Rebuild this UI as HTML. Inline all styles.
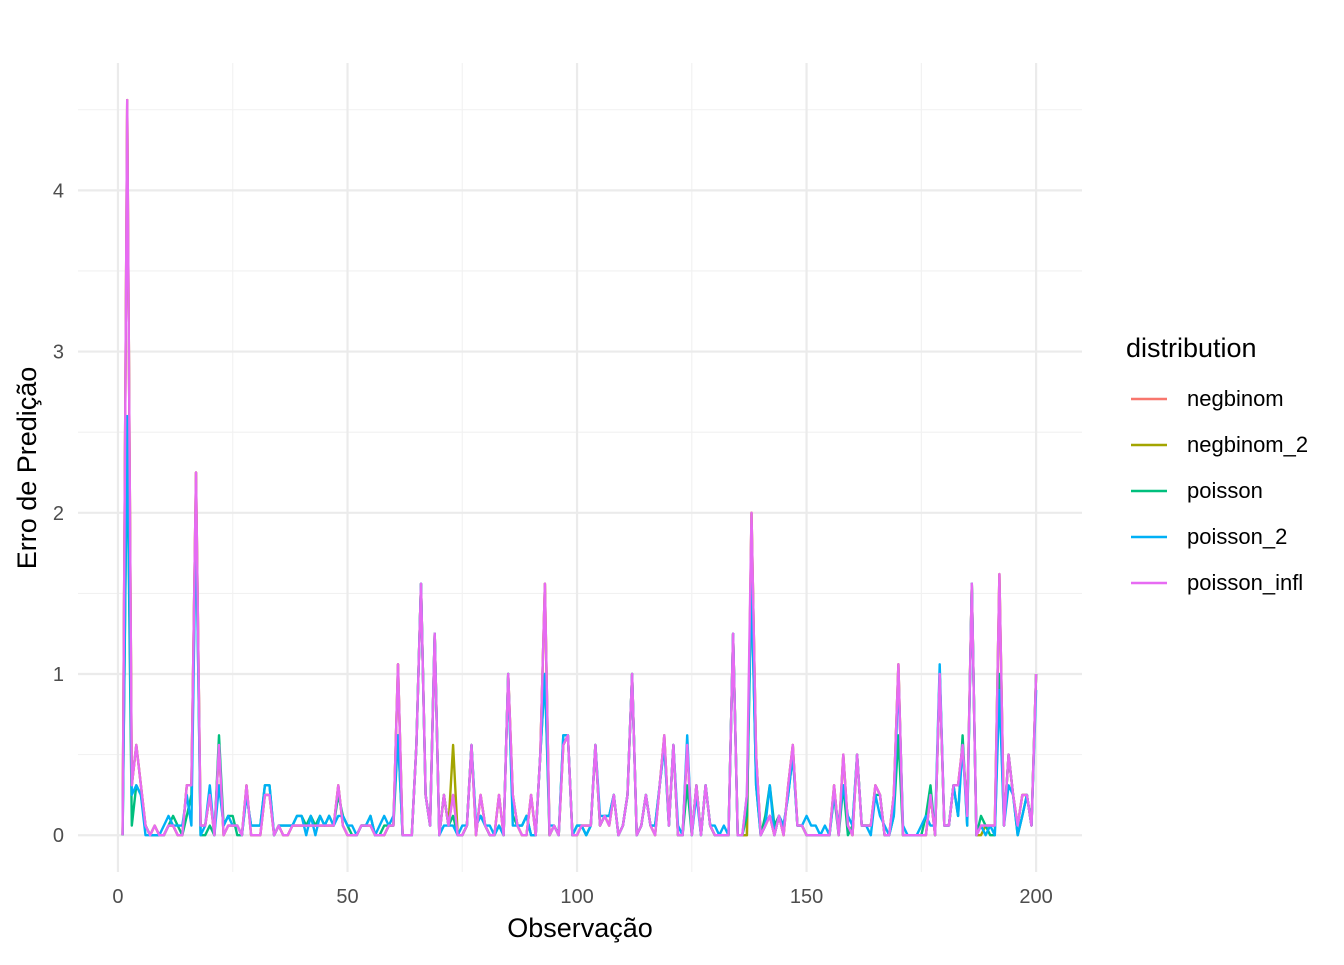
<!DOCTYPE html>
<html><head><meta charset="utf-8"><style>
body{margin:0;background:#fff;}
svg text{font-family:"Liberation Sans",sans-serif;}
</style></head><body>
<svg id="chart" width="1344" height="960" xmlns="http://www.w3.org/2000/svg">
<rect width="1344" height="960" fill="#fff"/>
<g id="grid"></g><g id="series"></g><g id="axes"></g>
<text x="580" y="937" font-size="27" text-anchor="middle" fill="#000">Observação</text>
<text transform="translate(36,468) rotate(-90)" font-size="27" text-anchor="middle" fill="#000">Erro de Predição</text>
<g>
<text x="1126" y="357" font-size="27" fill="#000">distribution</text>
<g id="legend"></g>
</g>
</svg>
<script>
const names=["negbinom","negbinom_2","poisson","poisson_2","poisson_infl"];
const colors=["#F8766D","#A3A500","#00BF7D","#00B0F6","#E76BF3"];
const xTicks=[0,50,100,150,200];
const yTicks=[0,1,2,3,4];
const infl=[0,4.56,0.31,0.56,0.31,0.06,0,0.06,0,0,
0.06,0.06,0,0,0.31,0.31,2.25,0.06,0.06,0.25,
0,0.56,0,0.06,0.06,0.06,0,0.31,0,0,
0,0.25,0.25,0,0.06,0,0,0.06,0.06,0.06,
0.06,0.06,0.06,0.06,0.06,0.06,0.06,0.31,0.06,0,
0,0,0.06,0.06,0.06,0,0,0,0.06,0.06,
1.06,0,0,0,0.56,1.56,0.25,0.06,1.25,0,
0.25,0.06,0.25,0,0,0.06,0.56,0,0.25,0.06,
0,0,0.25,0,1.0,0.25,0.06,0,0,0.25,
0,0.5,1.56,0,0.06,0,0.56,0.62,0,0,
0.06,0.06,0.06,0.56,0.06,0.12,0.06,0.25,0,0.06,
0.25,1.0,0,0.06,0.25,0.06,0,0.31,0.62,0.06,
0.56,0,0,0.56,0,0.31,0,0.31,0.06,0,
0,0,0,1.25,0,0,0.25,2.0,0.5,0,
0.06,0.12,0,0.12,0,0.31,0.56,0.06,0.06,0,
0,0,0,0,0,0.31,0,0.5,0.06,0,
0.5,0.06,0.06,0.06,0.31,0.25,0,0,0.25,1.06,
0,0,0,0,0,0,0.25,0,1.0,0.06,
0.06,0.31,0.31,0.56,0.12,1.56,0,0.06,0.06,0.06,
0.06,1.62,0.06,0.5,0.25,0.06,0.25,0.25,0.06,1.0];
const negbinom=[0,4.56,0.31,0.56,0.31,0.06,0,0.06,0,0,
0.06,0.06,0,0,0.31,0.31,2.25,0.06,0.06,0.25,
0,0.56,0,0.06,0.06,0.06,0,0.31,0,0,
0,0.25,0.25,0,0.06,0,0,0.06,0.06,0.06,
0.06,0.06,0.06,0.06,0.06,0.06,0.06,0.31,0.06,0,
0,0,0.06,0.06,0.06,0,0,0,0.06,0.06,
1.06,0,0,0,0.56,1.56,0.25,0.06,1.25,0,
0.25,0.06,0.25,0,0,0.06,0.56,0,0.25,0.06,
0,0,0.25,0,1.0,0.25,0.06,0,0,0.25,
0,0.5,1.56,0,0.06,0,0.56,0.62,0,0,
0.06,0.06,0.06,0.56,0.06,0.12,0.06,0.25,0,0.06,
0.25,1.0,0,0.06,0.25,0.06,0,0.31,0.62,0.06,
0.56,0,0,0.56,0,0.31,0,0.31,0.06,0,
0,0,0,1.25,0,0,0,2.0,0.5,0,
0.06,0.12,0,0.12,0,0.31,0.56,0.06,0.06,0,
0,0,0,0,0,0.31,0,0.5,0.06,0,
0.5,0.06,0.06,0.06,0.31,0.25,0,0,0.25,1.06,
0,0,0,0,0,0,0.25,0,1.0,0.06,
0.06,0.31,0.31,0.56,0.12,1.56,0,0.06,0.06,0.06,
0.06,1.62,0.06,0.5,0.25,0.06,0.25,0.25,0.06,1.0];
const negbinom2=[0,4.56,0.31,0.56,0.31,0.06,0,0.06,0,0,
0.06,0.06,0,0,0.31,0.31,2.25,0.06,0.06,0.25,
0,0.56,0,0.06,0.06,0.06,0,0.31,0,0,
0,0.25,0.25,0,0.06,0,0,0.06,0.06,0.06,
0.06,0.06,0.06,0.06,0.06,0.06,0.06,0.31,0.06,0,
0,0,0.06,0.06,0.06,0,0,0,0.06,0.06,
1.06,0,0,0,0.56,1.56,0.25,0.06,1.25,0,
0.25,0.06,0.56,0,0,0.06,0.56,0,0.25,0.06,
0,0,0.25,0,1.0,0.25,0.06,0,0,0.25,
0,0.5,1.56,0,0.06,0,0.56,0.62,0,0,
0.06,0.06,0.06,0.56,0.06,0.12,0.06,0.25,0,0.06,
0.25,1.0,0,0.06,0.25,0.06,0,0.31,0.62,0.06,
0.56,0,0,0.56,0,0.31,0,0.31,0.06,0,
0,0,0,1.25,0,0,0,2.0,0.5,0,
0.06,0.12,0,0.12,0,0.31,0.56,0.06,0.06,0,
0,0,0,0,0,0.31,0,0.5,0.06,0,
0.5,0.06,0.06,0.06,0.31,0.25,0,0,0.25,1.06,
0,0,0,0,0,0,0.25,0,1.0,0.06,
0.06,0.31,0.31,0.56,0.12,1.56,0,0,0.06,0.06,
0.06,1.62,0.06,0.5,0.25,0.06,0.25,0.25,0.06,1.0];
const poisson=[0,2.5,0.06,0.31,0.25,0.06,0,0,0,0,
0.06,0.12,0.06,0,0.12,0.25,2.0,0,0,0.06,
0,0.62,0.06,0.12,0.12,0,0,0.25,0.06,0.06,
0.06,0.31,0.31,0,0.06,0.06,0.06,0.06,0.12,0.12,
0.06,0.12,0.06,0.12,0.06,0.12,0.06,0.25,0.12,0.06,
0,0,0.06,0.06,0.12,0,0,0.06,0.06,0.06,
0.62,0,0,0,0.56,1.56,0.25,0.06,1.25,0,
0.25,0.06,0.12,0,0,0.06,0.56,0.06,0.12,0.06,
0,0,0.06,0,1.0,0.12,0.06,0.06,0.12,0,
0,0.5,1.0,0,0.06,0,0.62,0.62,0,0.06,
0.06,0,0.06,0.56,0.06,0.12,0.12,0.25,0,0.06,
0.25,1.0,0,0.06,0.25,0.06,0.06,0.31,0.56,0.06,
0.56,0,0,0.31,0,0.31,0,0.31,0.06,0,
0,0,0,1.25,0,0,0.12,1.56,0.31,0,
0.12,0.31,0.06,0.12,0.06,0.25,0.5,0.06,0.06,0,
0,0,0,0,0,0.25,0,0.31,0,0.06,
0.5,0.06,0.06,0.06,0.25,0.25,0,0,0.12,0.62,
0,0,0,0,0,0.12,0.31,0,1.0,0.06,
0.06,0.31,0.12,0.62,0.06,1.56,0,0.12,0.06,0,
0,1.0,0.06,0.5,0.25,0,0.12,0.25,0.06,1.0];
const poisson2=[0,2.6,0.25,0.31,0.25,0,0,0,0,0.06,
0.12,0.06,0.06,0.06,0.25,0.06,2.0,0,0.06,0.31,
0,0.31,0.06,0.12,0.06,0.06,0,0.25,0.06,0.06,
0.06,0.31,0.31,0,0.06,0.06,0.06,0.06,0.12,0.12,
0,0.12,0,0.12,0.06,0.12,0.06,0.12,0.12,0.06,
0.06,0,0.06,0.06,0.12,0,0.06,0.12,0.06,0.12,
0.62,0,0,0,0.56,1.56,0.25,0.06,1.25,0,
0.06,0.06,0.06,0,0.06,0.06,0.56,0.06,0.12,0.06,
0.06,0,0.06,0,1.0,0.06,0.06,0.06,0.12,0,
0,0.5,1.0,0.06,0.06,0,0.62,0.62,0,0.06,
0.06,0,0.06,0.56,0.12,0.12,0.12,0.25,0,0.06,
0.25,1.0,0,0.06,0.25,0.06,0.06,0.31,0.56,0.06,
0.56,0.06,0,0.62,0,0.25,0,0.31,0.06,0.06,
0,0.06,0,1.25,0,0,0.25,1.56,0.31,0,
0.06,0.31,0,0.12,0.06,0.25,0.5,0.06,0.06,0.12,
0.06,0.06,0,0.06,0,0.25,0.06,0.31,0.12,0.06,
0.5,0.06,0.06,0,0.25,0.12,0.06,0,0.12,1.0,
0.06,0,0,0,0.06,0.12,0.06,0.06,1.06,0.06,
0.06,0.31,0.12,0.56,0.06,1.56,0,0.06,0,0.06,
0,0.9,0.06,0.31,0.25,0,0.12,0.25,0.06,0.9];
const allSeries=[negbinom,negbinom2,poisson,poisson2,infl];

const X0=78,X1=1082,Y0=872,Y1=63;
const xmin=-8.71,xmax=210.0,ymin=-0.228,ymax=4.79;
const sx=v=>X0+(v-xmin)/(xmax-xmin)*(X1-X0);
const sy=v=>Y0-(v-ymin)/(ymax-ymin)*(Y0-Y1);
const NS="http://www.w3.org/2000/svg";
function mk(tag,attrs,parent){const e=document.createElementNS(NS,tag);for(const k in attrs)e.setAttribute(k,attrs[k]);parent.appendChild(e);return e;}
const grid=document.getElementById('grid'),axes=document.getElementById('axes'),ser=document.getElementById('series'),leg=document.getElementById('legend');
[25,75,125,175].forEach(v=>{const l=mk('line',{x1:sx(v),x2:sx(v),y1:Y1,y2:Y0,stroke:'#f1f1f1','stroke-width':1.1},grid);

});
[0.5,1.5,2.5,3.5,4.5].forEach(v=>{const l=mk('line',{x1:X0,x2:X1,y1:sy(v),y2:sy(v),stroke:'#f1f1f1','stroke-width':1.1},grid);

});
xTicks.forEach(v=>{const l=mk('line',{x1:sx(v),x2:sx(v),y1:Y1,y2:Y0,stroke:'#ebebeb','stroke-width':2.2},grid);


const t=mk('text',{x:sx(v),y:903,'font-size':20,'text-anchor':'middle',fill:'#4d4d4d'},axes);t.textContent=v;

});
yTicks.forEach(v=>{const l=mk('line',{x1:X0,x2:X1,y1:sy(v),y2:sy(v),stroke:'#ebebeb','stroke-width':2.2},grid);


const t=mk('text',{x:64,y:sy(v)+7,'font-size':20,'text-anchor':'end',fill:'#4d4d4d'},axes);t.textContent=v;

});
allSeries.forEach((arr,k)=>{
 const pts=arr.map((v,i)=>sx(i+1).toFixed(1)+','+sy(v).toFixed(1)).join(' ');
 const p=mk('polyline',{points:pts,fill:'none',stroke:colors[k],'stroke-width':2.4,'stroke-linejoin':'round'},ser);
 
 
 const y=399+k*46;
 const g=mk('g',{},leg);
 
 
 mk('line',{x1:1131,x2:1167,y1:y,y2:y,stroke:colors[k],'stroke-width':2.4},g);
 const t=mk('text',{x:1187,y:y+7,'font-size':22,fill:'#000'},g);t.textContent=names[k];
});
</script>
</body></html>
